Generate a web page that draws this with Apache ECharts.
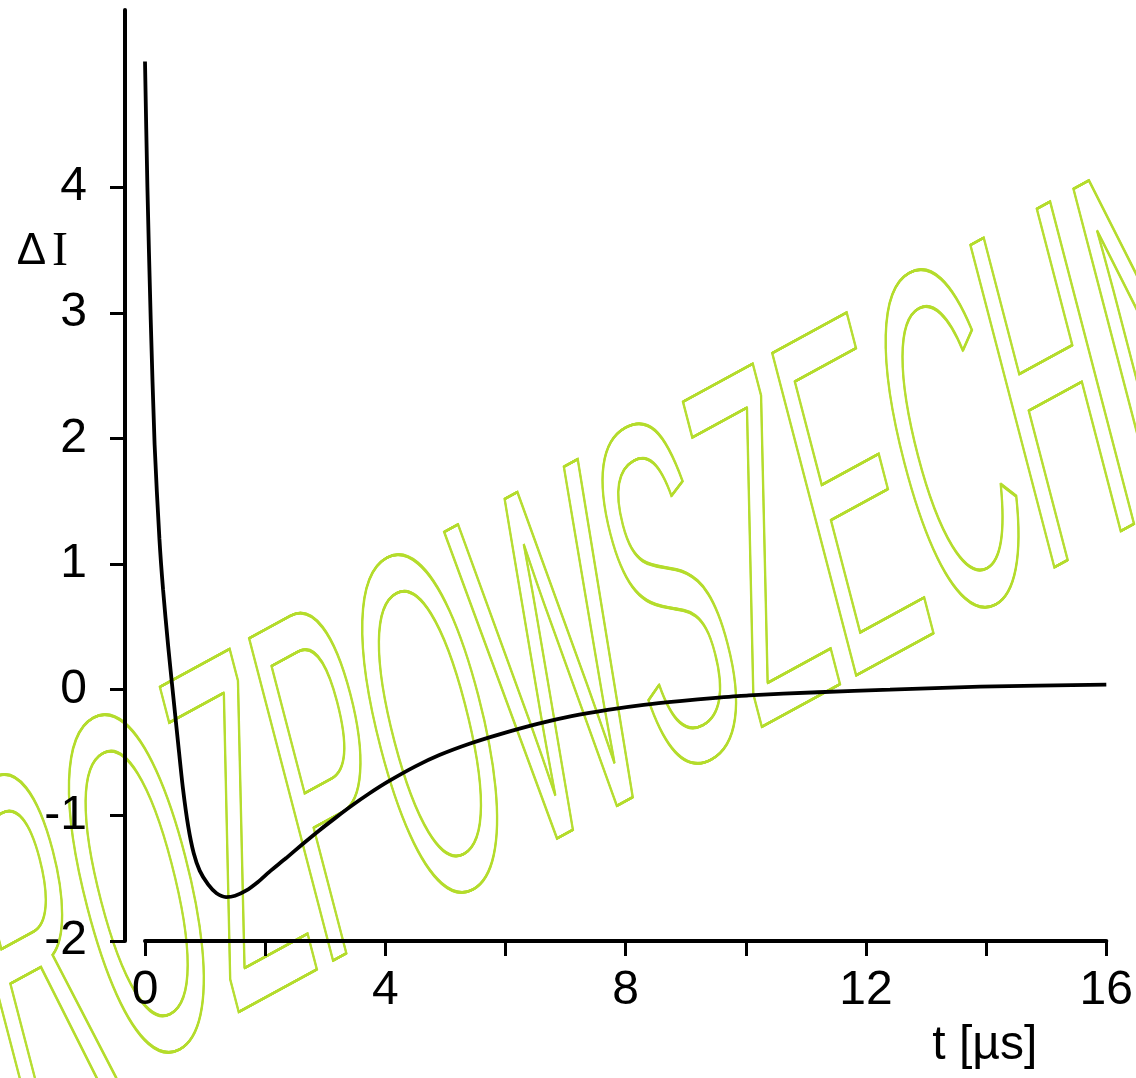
<!DOCTYPE html>
<html>
<head>
<meta charset="utf-8">
<script src="https://cdn.jsdelivr.net/npm/echarts@6/dist/echarts.min.js"></script>
<style>
  html, body { margin: 0; padding: 0; background: #ffffff; }
  #chart { width: 1136px; height: 1078px; }
</style>
</head>
<body>
<div id="chart"></div>
<script>
// ---- data ----
const tValues  = [0, 0.04, 0.095, 0.16, 0.24, 0.30, 0.385, 0.47, 0.55, 0.63, 0.72, 0.81, 0.91, 1.05, 1.19, 1.35, 1.50, 1.68, 1.88, 2.07, 2.35, 2.62, 2.90, 3.17, 3.45, 3.72, 4.05, 4.50, 4.90, 5.40, 5.90, 6.55, 7.10, 7.70, 8.30, 8.90, 9.50, 10.05, 11.2, 12.4, 13.9, 16.0];
const dIValues = [5.0, 4.0, 2.95, 1.95, 1.2, 0.8, 0.35, -0.05, -0.42, -0.78, -1.09, -1.30, -1.44, -1.55, -1.62, -1.65, -1.64, -1.60, -1.53, -1.45, -1.34, -1.23, -1.12, -1.02, -0.92, -0.83, -0.73, -0.61, -0.52, -0.43, -0.355, -0.27, -0.21, -0.16, -0.12, -0.09, -0.065, -0.045, -0.02, 0.0, 0.025, 0.04];
const xTickLabels = [0, 4, 8, 12, 16];
const yTickLabels = [-2, -1, 0, 1, 2, 3, 4];
const xAxisTitle = 't [µs]';
const watermarkText = 'ROZPOWSZECHNIANIE ZABRONIONE';

// ---- watermark geometry (affine: baseline and stem directions) ----
const WM = {
  originX: 20.7, originY: 1133.1,   // baseline-left of the string
  fontSize: 100,
  baselineShift: -28,               // local offset of the text's middle line so the baseline sits at the origin
  baseAngleDeg: 28.6, baseScale: 1.625,   // screen px per local px along baseline
  leanDeg: 14.6, vertScale: 4.84,          // screen px per local px along stems
  color: '#b4dc2c', lineWidth: 0.5, offsets: [-0.8, -0.4, 0, 0.4, 0.8]
};

function svd2(a, b, c, d) {
  const E = (a + d) / 2, F = (a - d) / 2, G = (c + b) / 2, H = (c - b) / 2;
  const Q = Math.hypot(E, H), R = Math.hypot(F, G);
  const a1 = Math.atan2(G, F), a2 = Math.atan2(H, E);
  return { sx: Q + R, sy: Q - R, theta: (a2 - a1) / 2, phi: (a2 + a1) / 2 };
}

function watermarkElements() {
  const al = WM.baseAngleDeg * Math.PI / 180, be = WM.leanDeg * Math.PI / 180;
  const ux = WM.baseScale * Math.cos(al), uy = -WM.baseScale * Math.sin(al);
  const vx = WM.vertScale * Math.sin(be), vy = WM.vertScale * Math.cos(be);
  const s = svd2(ux, vx, uy, vy);
  const dirx = Math.cos(al), diry = -Math.sin(al);
  return WM.offsets.map(o => ({
    type: 'group',
    x: WM.originX + o * dirx,
    y: WM.originY + o * diry,
    rotation: -s.phi,
    scaleX: s.sx,
    scaleY: s.sy,
    silent: true,
    z: 0,
    children: [{
      type: 'text',
      rotation: -s.theta,
      silent: true,
      z: 0,
      style: {
        text: watermarkText,
        x: 0,
        y: WM.baselineShift,
        fontSize: WM.fontSize,
        fontFamily: 'Liberation Sans',
        font: 'normal ' + WM.fontSize + 'px "Liberation Sans"',
        align: 'left', textAlign: 'left',
        verticalAlign: 'middle', textVerticalAlign: 'middle',
        fill: 'none',
        stroke: WM.color,
        lineWidth: WM.lineWidth
      }
    }]
  }));
}

const chart = echarts.init(document.getElementById('chart'), null, { renderer: 'canvas' });
const labelFont = { fontFamily: 'Liberation Sans', fontSize: 48, color: '#000' };

chart.setOption({
  backgroundColor: '#ffffff',
  animation: false,
  grid: { left: 145, right: 24, top: 10, bottom: 137, containLabel: false },
  xAxis: {
    type: 'value', min: 0, max: 16, interval: 2,
    name: xAxisTitle,
    nameLocation: 'end',
    nameGap: -69,
    nameTextStyle: Object.assign({}, labelFont, { align: 'right', verticalAlign: 'top', padding: [81, 0, 0, 0] }),
    axisLine: { show: true, onZero: false, lineStyle: { color: '#000', width: 4 } },
    axisTick: { show: true, inside: false, length: 15, lineStyle: { color: '#000', width: 3 } },
    axisLabel: Object.assign({}, labelFont, {
      margin: 26,
      customValues: xTickLabels,
      formatter: v => (xTickLabels.indexOf(v) >= 0 ? String(v) : '')
    }),
    splitLine: { show: false }
  },
  yAxis: {
    type: 'value', min: -2, max: 5.41, interval: 1,
    offset: 20,
    name: '{d|Δ}{i|I}',
    nameLocation: 'end',
    nameGap: -218,
    nameTextStyle: {
      align: 'right', verticalAlign: 'top', padding: [0, 57, 0, 0],
      rich: {
        d: { fontFamily: 'Liberation Sans', fontSize: 44, color: '#000' },
        i: { fontFamily: 'Liberation Serif', fontSize: 48, color: '#000', padding: [0, 0, 0, 6] }
      }
    },
    axisLine: { show: true, onZero: false, lineStyle: { color: '#000', width: 4 } },
    axisTick: { show: true, inside: false, length: 15, customValues: yTickLabels, lineStyle: { color: '#000', width: 3 } },
    axisLabel: Object.assign({}, labelFont, {
      margin: 38,
      customValues: yTickLabels,
      formatter: v => (yTickLabels.indexOf(v) >= 0 ? String(v) : '')
    }),
    splitLine: { show: false }
  },
  graphic: { elements: watermarkElements() },
  series: [{
    type: 'line',
    data: tValues.map((t, i) => [t, dIValues[i]]),
    showSymbol: false,
    smooth: 0.25,
    z: 5,
    lineStyle: { color: '#000', width: 3.8 }
  }]
});
</script>
</body>
</html>
